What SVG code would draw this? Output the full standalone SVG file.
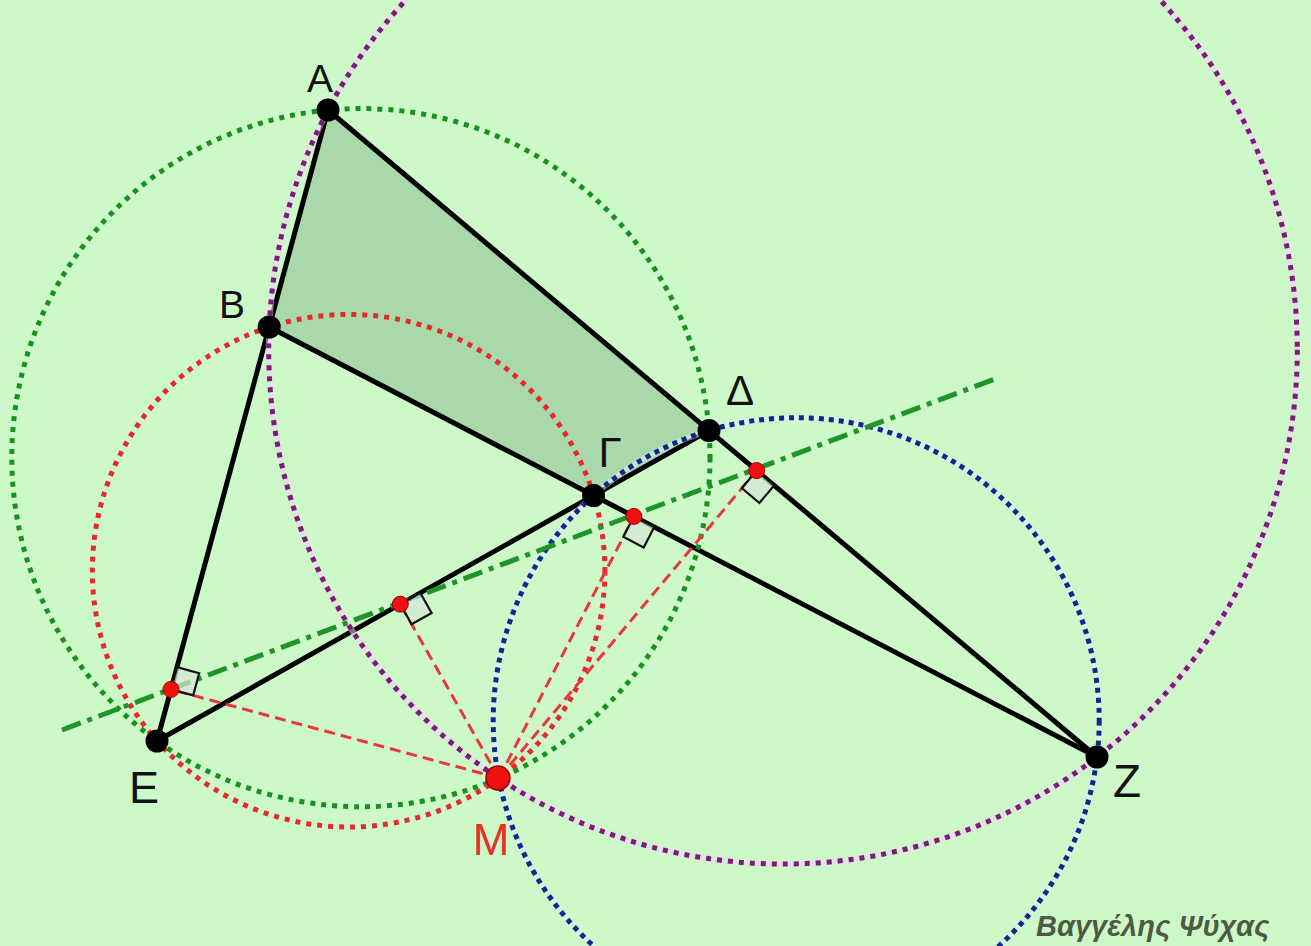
<svg xmlns="http://www.w3.org/2000/svg" width="1311" height="946" viewBox="0 0 1311 946">
<style>
.circ{fill:none;stroke-width:5;stroke-linecap:butt}
.halo{fill:none;stroke-width:6;opacity:0.55}
.seg{stroke:#000;stroke-width:5;stroke-linecap:round}
.perp{stroke:#e8383a;stroke-width:3;stroke-dasharray:11 6;fill:none}
.simson{stroke:#1f9428;stroke-width:5;stroke-dasharray:20 7 5 7;fill:none}
.sq{fill:#d6e6d6;fill-opacity:0.7;stroke:#111;stroke-width:2.2}
.pt{fill:#000}
.ft{fill:#f01010;stroke:#a00000;stroke-width:1}
.lbl{font-family:"Liberation Sans",Arial,sans-serif;fill:#111;text-anchor:middle}
</style>
<rect x="0" y="0" width="1311" height="946" fill="#cdf9c9"/>
<g id="shade">
<polygon points="328,110 269.2,327 593.6,495.5 709,430.6" fill="#a9d8ab"/>
</g>
<g id="connectors">
<line class="seg" x1="328" y1="110" x2="157" y2="741"/>
<line class="seg" x1="328" y1="110" x2="1097" y2="757"/>
<line class="seg" x1="269.2" y1="327" x2="1097" y2="757"/>
<line class="seg" x1="157" y1="741" x2="709" y2="430.6"/>
</g>
<g id="circles">
<circle class="halo" cx="783" cy="349.75" r="514.3" stroke="#f0d4f0"/>
<circle class="halo" cx="796.2" cy="720.7" r="303" stroke="#e4ecf4"/>
<circle id="circle-green" class="circ" cx="360.9" cy="457.6" r="349.1" stroke="#17921d" stroke-dasharray="5 6"/>
<circle id="circle-red" class="circ" cx="348.6" cy="570.7" r="256.3" stroke="#e62a2a" stroke-dasharray="5 6"/>
<circle id="circle-blue" class="circ" cx="796.2" cy="720.7" r="303" stroke="#0d2a8a" stroke-dasharray="5 5"/>
<circle id="circle-purple" class="circ" cx="783" cy="349.75" r="514.3" stroke="#7a1c78" stroke-dasharray="5 6"/>
</g>
<g id="perpendiculars">
<line class="perp" x1="499" y1="778" x2="171" y2="689.4"/>
<line class="perp" x1="499" y1="778" x2="400.3" y2="604.2"/>
<line class="perp" x1="499" y1="778" x2="633.9" y2="516.4"/>
<line class="perp" x1="499" y1="778" x2="756.6" y2="470.6"/>
</g>
<g id="simson-line">
<line class="simson" x1="62" y1="730" x2="995" y2="379"/>
</g>
<g id="right-angles">
<polygon class="sq" points="171,689.4 177,667.2 199.2,673.2 193.2,695.4"/>
<polygon class="sq" points="400.3,604.2 420.4,592.9 431.6,613 411.6,624.3"/>
<polygon class="sq" points="633.9,516.4 654.3,527 643.7,547.4 623.3,536.8"/>
<polygon class="sq" points="756.6,470.6 774.2,485.4 759.4,503 741.8,488.2"/>
</g>
<g id="node-A"><circle class="pt" cx="328" cy="110" r="11.5"/><text class="lbl" x="320" y="92" font-size="39">A</text></g>
<g id="node-B"><circle class="pt" cx="269.2" cy="327" r="11.5"/><text class="lbl" x="232" y="318" font-size="39">B</text></g>
<g id="node-Gamma"><circle class="pt" cx="593.6" cy="495.5" r="11.5"/><text class="lbl" x="610" y="467" font-size="42">Γ</text></g>
<g id="node-Delta"><circle class="pt" cx="709" cy="430.6" r="11.5"/><text class="lbl" x="740" y="405" font-size="42">Δ</text></g>
<g id="node-E"><circle class="pt" cx="157" cy="741" r="11.5"/><text class="lbl" x="144" y="803" font-size="45">E</text></g>
<g id="node-Z"><circle class="pt" cx="1097" cy="757" r="11.5"/><text class="lbl" x="1127" y="797" font-size="46">Z</text></g>
<g id="node-M"><circle cx="498" cy="778" r="12" fill="#f01010" stroke="#900000" stroke-width="1.5"/><text class="lbl" x="491" y="855" font-size="44" style="fill:#e8302a">M</text></g>
<g id="feet">
<circle class="ft" cx="171" cy="689.4" r="8"/>
<circle class="ft" cx="400.3" cy="604.2" r="8"/>
<circle class="ft" cx="633.9" cy="516.4" r="8"/>
<circle class="ft" cx="756.6" cy="470.6" r="8"/>
</g>
<text x="1036" y="936" font-family="'Liberation Sans',Arial,sans-serif" font-weight="bold" font-style="italic" font-size="29" fill="#4d5a44">Βαγγέλης Ψύχας</text>
</svg>
